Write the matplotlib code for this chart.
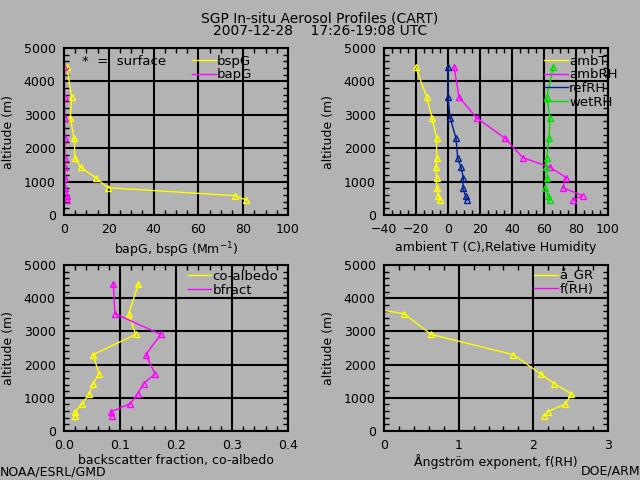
# SGP in-situ aerosol profiles, 4-panel IDL-style plot
import numpy as np
import matplotlib
matplotlib.use("Agg")
import matplotlib.pyplot as plt
from matplotlib.ticker import MultipleLocator

# Data
alt = [450, 580, 820, 1120, 1430, 1720, 2300, 2910, 3530, 4430]

bspG = [81.3, 76.3, 19.5, 14.1, 7.4, 4.9, 4.5, 2.8, 3.4, 1.3]
bapG = [1.5, 1.4, 0.6, 0.5, 0.4, 0.4, 0.3, 0.3, 0.3, 0.2]

ambT = [-5.0, -6.0, -7.1, -7.1, -7.5, -7.1, -7.1, -10.0, -13.3, -20.2]
ambRH = [78.3, 84.2, 71.7, 73.8, 63.8, 46.7, 35.6, 17.9, 6.9, 3.8]
refRH = [11.7, 11.0, 9.2, 9.6, 8.1, 6.0, 5.0, 1.3, 0.0, 0.0]
wetRH = [63.8, 62.7, 60.6, 62.1, 61.3, 61.7, 63.1, 63.8, 61.7, 65.8]

coalb = [0.020, 0.020, 0.032, 0.045, 0.052, 0.0625, 0.052, 0.128, 0.1155, 0.133]
bfract = [0.086, 0.084, 0.118, 0.1315, 0.142, 0.1625, 0.146, 0.173, 0.091, 0.088]

ang = [2.14, 2.19, 2.43, 2.51, 2.28, 2.10, 1.73, 0.63, 0.27, -2.15]

# Colours
BG = "#b3b3b3"
YEL = "#ffff00"
MAG = "#ff00ff"
NAVY = "#002090"
GRN = "#00e000"

plt.rcParams['font.family'] = 'DejaVu Sans'
plt.rcParams['font.size'] = 9

fig = plt.figure(figsize=(6.4, 4.8), dpi=100, facecolor=BG)


def make_axes(rect, xlim, xmaj, xmin, xlabel, lpad=3):
    ax = fig.add_axes(rect, facecolor=BG)
    ax.set_xlim(*xlim)
    ax.set_ylim(0, 5000)
    ax.xaxis.set_major_locator(MultipleLocator(xmaj))
    ax.xaxis.set_minor_locator(MultipleLocator(xmin))
    ax.yaxis.set_major_locator(MultipleLocator(1000))
    ax.yaxis.set_minor_locator(MultipleLocator(200))
    ax.grid(True, which='major', color='black', lw=1.5)
    ax.tick_params(which='both', direction='in', top=True, right=True,
                   colors='black')
    ax.tick_params(which='major', length=0, pad=6)
    ax.tick_params(which='minor', length=3.5, width=1)
    for s in ax.spines.values():
        s.set_color('black')
        s.set_linewidth(1.5)
    ax.set_xlabel(xlabel, labelpad=lpad)
    ax.set_ylabel("altitude (m)", labelpad=6)
    return ax


def prof(ax, x, color, label):
    ax.plot(x, alt, color=color, lw=1, marker='^', ms=4, mfc='none',
            mec=color, mew=1)
    # legend handle without marker
    ax.plot([], [], color=color, lw=1, label=label)


def leg(ax, x0, y0):
    handles, labels = ax.get_legend_handles_labels()
    ax.legend(handles=handles, labels=labels,
              loc='upper left', bbox_to_anchor=(x0, y0), frameon=False,
              borderpad=0, borderaxespad=0, handlelength=1.8,
              handletextpad=0.1, labelspacing=0.05, fontsize=9.5)


# Panel 1: scattering / absorption
ax1 = make_axes([0.1, 0.552, 0.35, 0.348], (0, 100), 20, 5,
                "bapG, bspG (Mm$^{-1}$)")
prof(ax1, bspG, YEL, "bspG")
prof(ax1, bapG, MAG, "bapG")
leg(ax1, 0.571, 0.96)
ax1.text(0.08, 0.922, "*  =  surface", transform=ax1.transAxes, va='center',
         fontsize=9.5)

# Panel 2: T and RH
ax2 = make_axes([0.6, 0.552, 0.35, 0.348], (-40, 100), 20, 5,
                "ambient T (C),Relative Humidity")
prof(ax2, ambT, YEL, "ambT.")
prof(ax2, ambRH, MAG, "ambRH")
prof(ax2, refRH, NAVY, "refRH")
prof(ax2, wetRH, GRN, "wetRH")
leg(ax2, 0.714, 0.96)

# Panel 3: backscatter fraction, co-albedo
ax3 = make_axes([0.1, 0.102, 0.35, 0.346], (0, 0.4), 0.1, 0.02,
                "backscatter fraction, co-albedo", lpad=1)
ax3.xaxis.set_major_formatter(matplotlib.ticker.FormatStrFormatter('%.1f'))
prof(ax3, coalb, YEL, "co-albedo")
prof(ax3, bfract, MAG, "bfract")
leg(ax3, 0.552, 0.97)

# Panel 4: Angstrom exponent, f(RH)
ax4 = make_axes([0.6, 0.102, 0.35, 0.346], (0, 3), 1, 0.2,
                "Ångström exponent, f(RH)", lpad=1)
prof(ax4, ang, YEL, "å_GR")
ax4.plot([], [], color=MAG, lw=1, label="f(RH)")
leg(ax4, 0.67, 0.98)

# Titles and credits
fig.text(0.5, 0.962, "SGP In-situ Aerosol Profiles (CART)", ha='center',
         va='center', fontsize=10)
fig.text(0.5, 0.935, "2007-12-28    17:26-19:08 UTC", ha='center',
         va='center', fontsize=10)
fig.text(0.0, 0.003, "NOAA/ESRL/GMD", ha='left', va='bottom')
fig.text(1.0, 0.005, "DOE/ARM", ha='right', va='bottom')

fig.savefig("out.png", dpi=100, facecolor=BG)
